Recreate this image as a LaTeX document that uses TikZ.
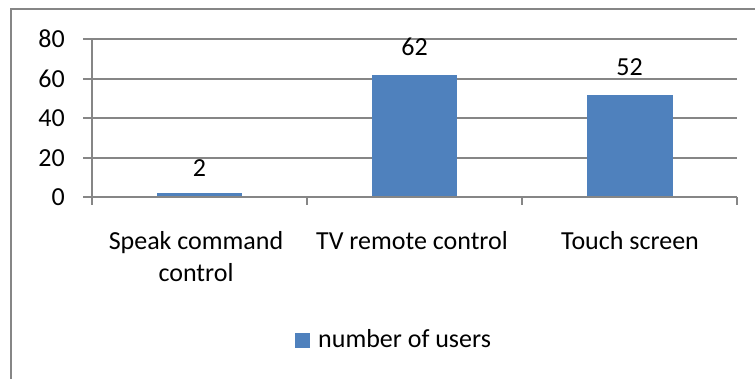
\documentclass[tikz,border=0pt]{standalone}
\usepackage{fontspec}
\setmainfont{Carlito}
\definecolor{barblue}{HTML}{4F81BD}
\definecolor{gridgray}{HTML}{868686}
\begin{document}
\begin{tikzpicture}[x=1pt,y=-1pt,
  grid/.style={draw=gridgray,line width=1.4pt},
  bar/.style={fill=barblue,draw=none},
  lbl/.style={inner sep=0pt,font=\fontsize{26}{32}\selectfont},
  ticklbl/.style={lbl,anchor=east},
  catlbl/.style={lbl,anchor=base,align=center},
]
\useasboundingbox (0,0) rectangle (755,378);
\begin{scope}
\clip (0,0) rectangle (755,378);
\draw[draw=gridgray,line width=2.5pt] (11,9) rectangle (770,395);
\end{scope}
% gridlines
\foreach \v/\yy in {80/39,60/79,40/118,20/158}{
  \draw[grid] (83,\yy) -- (737,\yy);
  \node[ticklbl] (t\v) at (65,\yy) {\v};
}
\node[ticklbl] (t0) at (65,197) {0};
% bars
\fill[bar] (157,193) rectangle (242,197);
\fill[bar] (372,75) rectangle (457,197);
\fill[bar] (587,95) rectangle (673,197);
% axes
\draw[grid] (92,39) -- (92,205);
\draw[grid] (83,197) -- (737,197);
\foreach \xx in {307,522,737}{\draw[grid] (\xx,197) -- (\xx,205);}
% data labels
\node[lbl] (d1) at (199.5,168) {2};
\node[lbl] (d2) at (414.5,47) {62};
\node[lbl] (d3) at (629.5,67) {52};
% category labels
\node[catlbl] (c1) at (196,281) {Speak command\\control};
\node[catlbl] (c2) at (412,249) {TV remote control};
\node[catlbl] (c3) at (630,249) {Touch screen};
% legend
\fill[bar] (295,333) rectangle (310,348);
\node[lbl,anchor=base west] (leg) at (318,347) {number of users};
\end{tikzpicture}
\end{document}
